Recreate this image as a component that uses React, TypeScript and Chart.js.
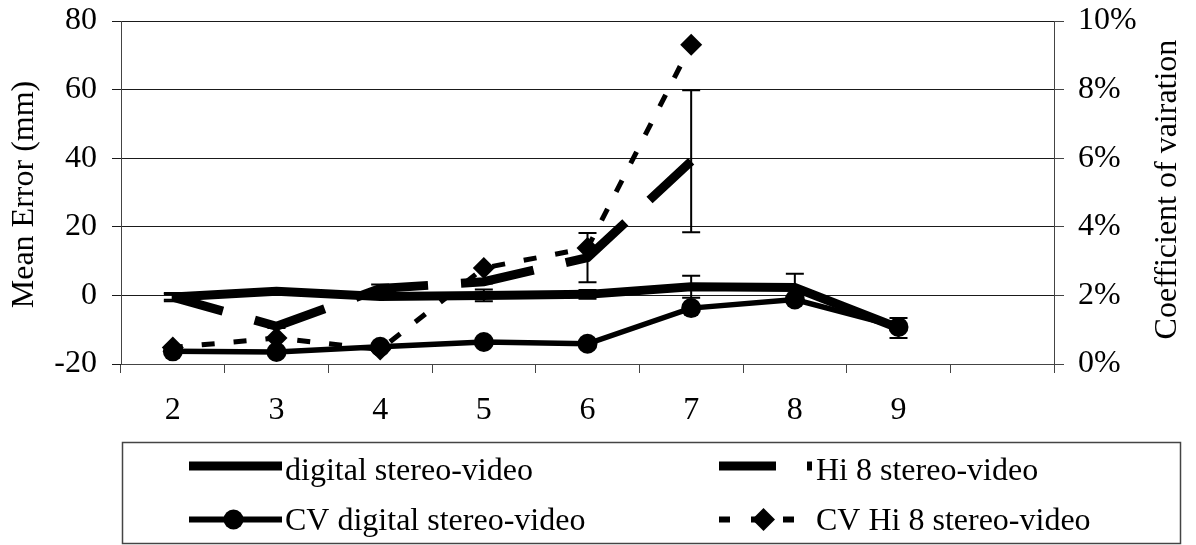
import React, { useEffect, useRef } from 'react';
import { Chart, registerables } from 'chart.js';

Chart.register(...registerables);

// ---- data ----
const categories = ['2', '3', '4', '5', '6', '7', '8', '9', ''];
const digital = [-0.5, 1.2, -0.3, 0, 0.3, 2.5, 2.3, -9.5, null];
const digitalErr = [1.2, 0.4, 0.5, 1.7, 1.3, 3.2, 4.0, 2.9, null];
const hi8 = [-0.5, -9, 2, 4, 11, 39.1, null, null, null];
const hi8Err = [0.8, 0.5, 1.2, 0.5, 7.2, 20.7, null, null, null];
const cvDigital = [0.37, 0.35, 0.5, 0.64, 0.59, 1.63, 1.88, 1.08, null];
const cvHi8 = [0.48, 0.76, 0.42, 2.8, 3.38, 9.31, null, null, null];
const seriesNames = [
  'digital stereo-video',
  'Hi 8 stereo-video',
  'CV digital stereo-video',
  'CV Hi 8 stereo-video',
];
const yTitle = 'Mean Error (mm)';
const y1Title = 'Coefficient of vairation';

const FONT = "'Liberation Serif', 'Times New Roman', serif";
const FS = 32;

const errorBarPlugin = {
  id: 'errorBars',
  afterDatasetsDraw(chart: any) {
    const ctx = chart.ctx;
    const xs = chart.scales.x;
    const ys = chart.scales.y;
    const sets = [
      { v: digital, e: digitalErr },
      { v: hi8, e: hi8Err },
    ];
    ctx.save();
    ctx.strokeStyle = '#000';
    ctx.lineWidth = 2;
    sets.forEach(({ v, e }) => {
      v.forEach((val, i) => {
        const err = e[i];
        if (val == null || err == null || err === 0) return;
        const x = xs.getPixelForValue(i);
        const yt = ys.getPixelForValue(val + err);
        const yb = ys.getPixelForValue(val - err);
        ctx.beginPath();
        ctx.moveTo(x, yt);
        ctx.lineTo(x, yb);
        ctx.moveTo(x - 9, yt);
        ctx.lineTo(x + 9, yt);
        ctx.moveTo(x - 9, yb);
        ctx.lineTo(x + 9, yb);
        ctx.stroke();
      });
    });
    ctx.restore();
  },
};

const decorPlugin = {
  id: 'decor',
  afterDraw(chart: any) {
    const ctx = chart.ctx;
    const area = chart.chartArea;
    const ds = chart.data.datasets;
    ctx.save();
    ctx.fillStyle = '#000';
    ctx.font = `${FS}px ${FONT}`;
    // axis titles (both read bottom-to-top)
    ctx.textAlign = 'center';
    ctx.textBaseline = 'alphabetic';
    ctx.save();
    ctx.translate(33, (area.top + area.bottom) / 2 + 2);
    ctx.rotate(-Math.PI / 2);
    ctx.fillText(yTitle, 0, 0);
    ctx.restore();
    ctx.save();
    ctx.translate(1176, (area.top + area.bottom) / 2 - 3);
    ctx.rotate(-Math.PI / 2);
    ctx.fillText(y1Title, 0, 0);
    ctx.restore();

    // legend box
    ctx.strokeStyle = '#444';
    ctx.lineWidth = 1.5;
    ctx.strokeRect(122.5, 442.5, 1058, 101);

    const rows = [466, 519.5];
    const baselines = [479.5, 529.5];
    const cols = [189, 719];
    const sampleLen = 93;
    const textX = [285, 816];
    const layout = [
      { i: 0, r: 0, c: 0 },
      { i: 1, r: 0, c: 1 },
      { i: 2, r: 1, c: 0 },
      { i: 3, r: 1, c: 1 },
    ];
    const legendDash: any = { 1: [57, 31], 3: [11, 21] };
    layout.forEach(({ i, r, c }) => {
      const d = ds[i];
      const y = rows[r];
      const x0 = cols[c];
      ctx.save();
      ctx.strokeStyle = '#000';
      ctx.lineWidth = i === 0 || i === 1 ? 9 : 6;
      ctx.lineCap = 'butt';
      ctx.setLineDash(legendDash[i] || []);
      ctx.beginPath();
      ctx.moveTo(x0, y);
      ctx.lineTo(x0 + sampleLen, y);
      ctx.stroke();
      ctx.setLineDash([]);
      const mx = x0 + sampleLen / 2 - 2;
      ctx.fillStyle = '#000';
      if (d.pointStyle === 'circle' && d.pointRadius > 0) {
        ctx.beginPath();
        ctx.arc(mx, y, 10, 0, Math.PI * 2);
        ctx.fill();
      } else if (d.pointStyle === 'rectRot' && d.pointRadius > 0) {
        const rr = 11.5;
        ctx.beginPath();
        ctx.moveTo(mx, y - rr);
        ctx.lineTo(mx + rr, y);
        ctx.lineTo(mx, y + rr);
        ctx.lineTo(mx - rr, y);
        ctx.closePath();
        ctx.fill();
      }
      ctx.restore();
      ctx.fillStyle = '#000';
      ctx.textAlign = 'left';
      ctx.textBaseline = 'alphabetic';
      ctx.fillText(seriesNames[i], textX[c], baselines[r]);
    });
    ctx.restore();
  },
};

const noVPad = (s: any, w: number) => {
  s.width = w;
  s.paddingTop = 0;
  s.paddingBottom = 0;
};

export default function App() {
  const ref = useRef<HTMLCanvasElement | null>(null);
  useEffect(() => {
    if (!ref.current) return;
    const tickFont = { family: FONT, size: FS };
    const chart = new Chart(ref.current, {
      type: 'line',
      data: {
        labels: categories,
        datasets: [
          {
            label: seriesNames[0],
            data: digital,
            yAxisID: 'y',
            borderColor: '#000',
            backgroundColor: '#000',
            borderWidth: 9,
            borderJoinStyle: 'miter',
            pointRadius: 0,
            tension: 0,
            order: 3,
          },
          {
            label: seriesNames[1],
            data: hi8,
            yAxisID: 'y',
            borderColor: '#000',
            backgroundColor: '#000',
            borderWidth: 9,
            borderDash: [74, 33],
            borderDashOffset: 22,
            borderJoinStyle: 'miter',
            pointRadius: 0,
            tension: 0,
            order: 4,
          },
          {
            label: seriesNames[2],
            data: cvDigital,
            yAxisID: 'y1',
            borderColor: '#000',
            backgroundColor: '#000',
            borderWidth: 5.5,
            pointStyle: 'circle',
            pointRadius: 10,
            pointBorderWidth: 0,
            pointBackgroundColor: '#000',
            tension: 0,
            order: 1,
          },
          {
            label: seriesNames[3],
            data: cvHi8,
            yAxisID: 'y1',
            borderColor: '#000',
            backgroundColor: '#000',
            borderWidth: 5,
            borderDash: [13, 19],
            borderDashOffset: 3,
            pointStyle: 'rectRot',
            pointRadius: 11,
            pointBorderWidth: 0,
            pointBackgroundColor: '#000',
            tension: 0,
            order: 2,
          },
        ],
      },
      options: {
        responsive: false,
        animation: false,
        devicePixelRatio: 1,
        layout: { padding: { top: 21, left: 0, right: 0, bottom: 0 } },
        plugins: {
          legend: { display: false },
          tooltip: { enabled: false },
        },
        scales: {
          x: {
            type: 'category',
            offset: true,
            grid: {
              offset: true,
              drawOnChartArea: false,
              drawTicks: true,
              tickLength: 9,
              color: '#444',
              lineWidth: 1,
            },
            border: { display: true, color: '#444', width: 1 },
            ticks: {
              font: tickFont,
              color: '#000',
              padding: 18,
              maxRotation: 0,
              autoSkip: false,
            },
            afterFit: (s: any) => {
              s.height = 181;
              s.paddingLeft = 0;
              s.paddingRight = 0;
            },
          },
          y: {
            position: 'left',
            min: -20,
            max: 80,
            grid: {
              color: '#1a1a1a',
              lineWidth: 1,
              drawTicks: true,
              tickLength: 9,
            },
            border: { display: true, color: '#444', width: 1 },
            ticks: {
              stepSize: 20,
              font: tickFont,
              color: '#000',
              padding: 15,
            },
            afterFit: (s: any) => noVPad(s, 121),
          },
          y1: {
            position: 'right',
            min: 0,
            max: 10,
            grid: {
              drawOnChartArea: false,
              drawTicks: true,
              tickLength: 10,
              color: '#444',
            },
            border: { display: true, color: '#444', width: 1 },
            ticks: {
              stepSize: 2,
              font: tickFont,
              color: '#000',
              padding: 14,
              callback: (v: any) => `${v}%`,
            },
            afterFit: (s: any) => noVPad(s, 142),
          },
        },
      },
      plugins: [errorBarPlugin, decorPlugin],
    } as any);
    return () => chart.destroy();
  }, []);
  return (
    <div style={{ position: 'fixed', left: 0, top: 0, width: 1196, height: 545, background: '#fff' }}>
      <canvas ref={ref} width={1196} height={545} style={{ width: 1196, height: 545, display: 'block' }} />
    </div>
  );
}
